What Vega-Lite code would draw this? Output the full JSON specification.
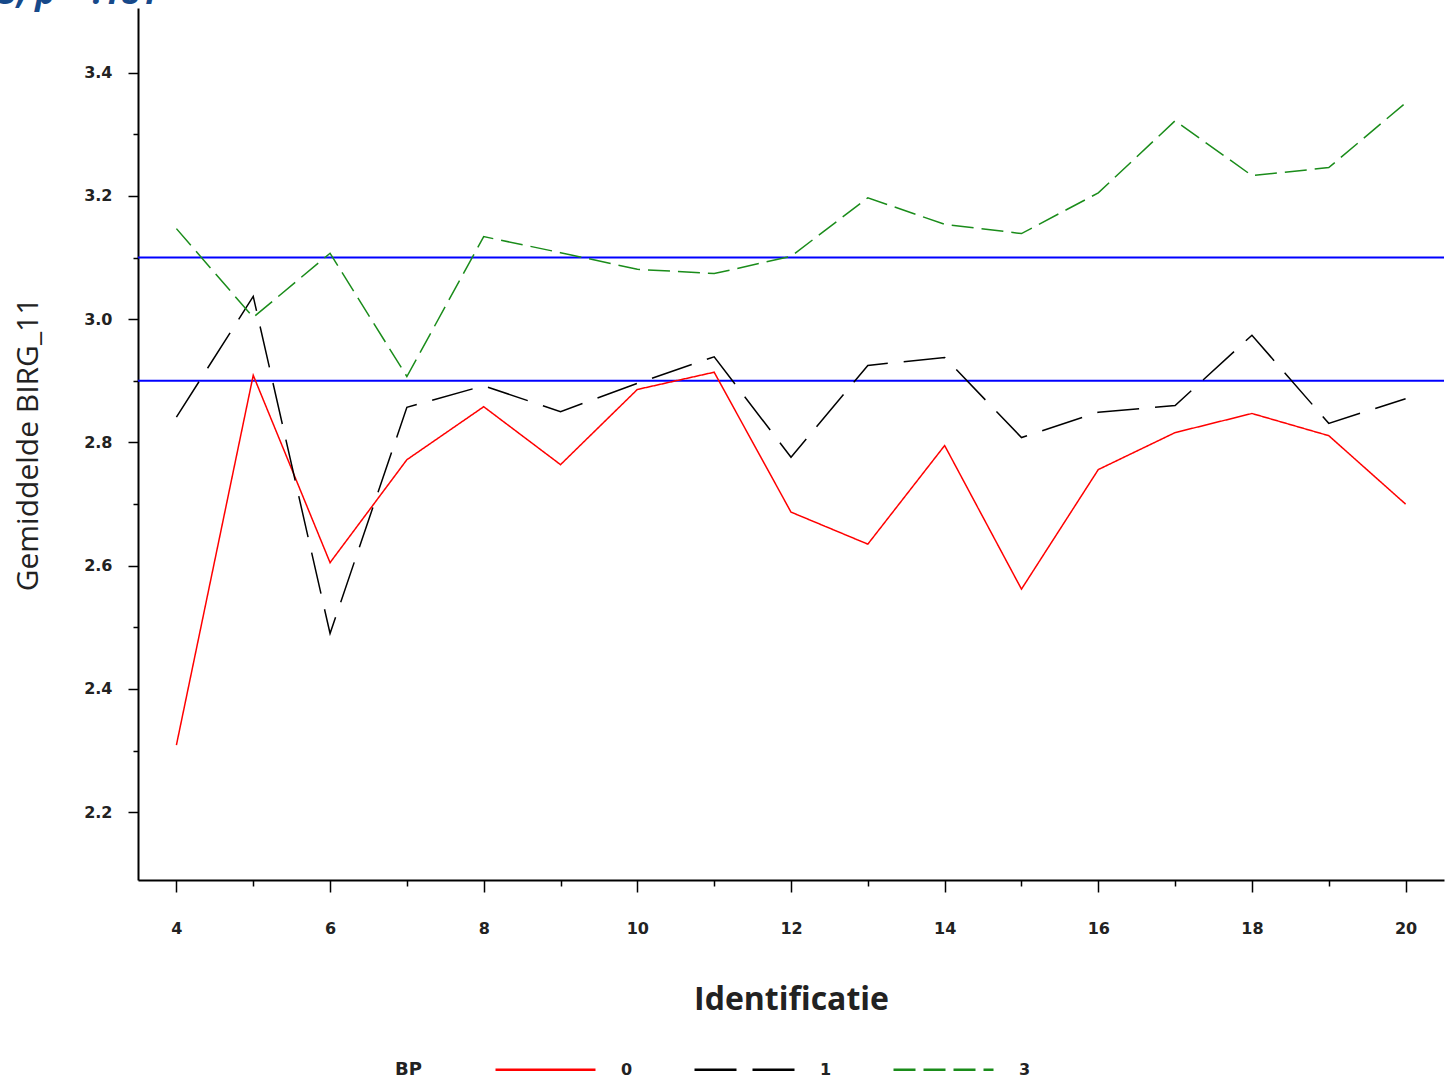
{
  "$schema": "https://vega.github.io/schema/vega-lite/v6.json",
  "autosize": {"type": "none"},
  "width": 1306,
  "height": 872,
  "padding": {"left": 138, "top": 8, "right": 7, "bottom": 201},
  "background": "white",
  "title": {
    "text": "5, p = .181",
    "anchor": "start",
    "frame": "group",
    "orient": "top",
    "offset": 5,
    "dx": -140,
    "dy": 35,
    "baseline": "alphabetic",
    "font": "Open Sans",
    "fontSize": 34,
    "fontStyle": "italic",
    "fontWeight": "bold",
    "color": "#17498a"
  },
  "datasets": {
    "means": [
      {"id": 4, "BP": "0", "m": 2.309}, {"id": 5, "BP": "0", "m": 2.909}, {"id": 6, "BP": "0", "m": 2.605},
      {"id": 7, "BP": "0", "m": 2.772}, {"id": 8, "BP": "0", "m": 2.858}, {"id": 9, "BP": "0", "m": 2.764},
      {"id": 10, "BP": "0", "m": 2.886}, {"id": 11, "BP": "0", "m": 2.914}, {"id": 12, "BP": "0", "m": 2.687},
      {"id": 13, "BP": "0", "m": 2.635}, {"id": 14, "BP": "0", "m": 2.795}, {"id": 15, "BP": "0", "m": 2.562},
      {"id": 16, "BP": "0", "m": 2.756}, {"id": 17, "BP": "0", "m": 2.816}, {"id": 18, "BP": "0", "m": 2.847},
      {"id": 19, "BP": "0", "m": 2.811}, {"id": 20, "BP": "0", "m": 2.700},
      {"id": 4, "BP": "1", "m": 2.841}, {"id": 5, "BP": "1", "m": 3.037}, {"id": 6, "BP": "1", "m": 2.490},
      {"id": 7, "BP": "1", "m": 2.857}, {"id": 8, "BP": "1", "m": 2.892}, {"id": 9, "BP": "1", "m": 2.850},
      {"id": 10, "BP": "1", "m": 2.896}, {"id": 11, "BP": "1", "m": 2.939}, {"id": 12, "BP": "1", "m": 2.776},
      {"id": 13, "BP": "1", "m": 2.925}, {"id": 14, "BP": "1", "m": 2.938}, {"id": 15, "BP": "1", "m": 2.808},
      {"id": 16, "BP": "1", "m": 2.849}, {"id": 17, "BP": "1", "m": 2.860}, {"id": 18, "BP": "1", "m": 2.974},
      {"id": 19, "BP": "1", "m": 2.831}, {"id": 20, "BP": "1", "m": 2.871},
      {"id": 4, "BP": "3", "m": 3.147}, {"id": 5, "BP": "3", "m": 3.003}, {"id": 6, "BP": "3", "m": 3.107},
      {"id": 7, "BP": "3", "m": 2.907}, {"id": 8, "BP": "3", "m": 3.134}, {"id": 9, "BP": "3", "m": 3.108},
      {"id": 10, "BP": "3", "m": 3.081}, {"id": 11, "BP": "3", "m": 3.074}, {"id": 12, "BP": "3", "m": 3.102},
      {"id": 13, "BP": "3", "m": 3.197}, {"id": 14, "BP": "3", "m": 3.154}, {"id": 15, "BP": "3", "m": 3.139},
      {"id": 16, "BP": "3", "m": 3.205}, {"id": 17, "BP": "3", "m": 3.322}, {"id": 18, "BP": "3", "m": 3.233},
      {"id": 19, "BP": "3", "m": 3.246}, {"id": 20, "BP": "3", "m": 3.351}
    ],
    "refs": [{"ref": 3.1}, {"ref": 2.9}]
  },
  "layer": [
    {
      "data": {"name": "refs"},
      "mark": {"type": "rule", "color": "#0000ff", "strokeWidth": 2},
      "encoding": {
        "y": {"field": "ref", "type": "quantitative"}
      }
    },
    {
      "data": {"name": "means"},
      "mark": {"type": "line", "strokeWidth": 1.5},
      "encoding": {
        "x": {
          "field": "id", "type": "quantitative",
          "scale": {"domain": [3.5, 20.5], "nice": false, "zero": false},
          "axis": {
            "title": "Identificatie",
            "values": [4, 5, 6, 7, 8, 9, 10, 11, 12, 13, 14, 15, 16, 17, 18, 19, 20],
            "labelExpr": "datum.value % 2 == 0 ? datum.label : ''",
            "tickSize": {"condition": {"test": "datum.value % 2 == 0", "value": 12}, "value": 6},
            "labelPadding": 28,
            "titlePadding": 48
          }
        },
        "y": {
          "field": "m", "type": "quantitative",
          "scale": {"domain": [2.09, 3.505], "nice": false, "zero": false},
          "axis": {
            "title": "Gemiddelde BIRG_11",
            "values": [2.2, 2.3, 2.4, 2.5, 2.6, 2.7, 2.8, 2.9, 3.0, 3.1, 3.2, 3.3, 3.4],
            "labelExpr": "round(datum.value * 10) % 2 == 0 ? format(datum.value, '.1f') : ''",
            "tickSize": {"condition": {"test": "round(datum.value * 10) % 2 == 0", "value": 10}, "value": 5},
            "labelPadding": 16,
            "titlePadding": 40
          }
        },
        "color": {
          "field": "BP", "type": "nominal",
          "scale": {"domain": ["0", "1", "3"], "range": ["#ff0000", "#000000", "#1a8c1a"]},
          "legend": {"title": "BP"}
        },
        "strokeDash": {
          "field": "BP", "type": "nominal",
          "scale": {"domain": ["0", "1", "3"], "range": [[1, 0], [42, 16], [22, 8]]},
          "legend": {"title": "BP"}
        }
      }
    }
  ],
  "config": {
    "view": {"stroke": null},
    "axis": {
      "grid": false,
      "domainColor": "#000000",
      "domainWidth": 2,
      "tickColor": "#000000",
      "tickWidth": 1.5,
      "labelFont": "DejaVu Sans",
      "labelFontWeight": "bold",
      "labelFontSize": 16,
      "labelColor": "#222222",
      "titleColor": "#222222"
    },
    "axisX": {
      "titleFont": "Open Sans",
      "titleFontSize": 32,
      "titleFontWeight": "bold"
    },
    "axisY": {
      "titleFont": "Open Sans",
      "titleFontSize": 30,
      "titleFontWeight": "normal"
    },
    "legend": {
      "orient": "none",
      "legendX": 257,
      "legendY": 1010,
      "direction": "horizontal",
      "titleOrient": "left",
      "titleBaseline": "line-top",
      "titleLineHeight": 44,
      "titleFont": "DejaVu Sans",
      "titleFontWeight": "bold",
      "titleFontSize": 18,
      "titleColor": "#222222",
      "titlePadding": 72,
      "labelFont": "DejaVu Sans",
      "labelFontWeight": "bold",
      "labelFontSize": 16,
      "labelColor": "#222222",
      "labelOffset": 24,
      "columnPadding": 56,
      "symbolType": "stroke",
      "symbolSize": 10000,
      "symbolStrokeWidth": 2.5
    }
  }
}
